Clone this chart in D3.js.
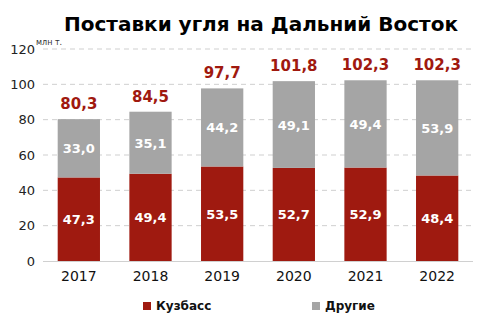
<!DOCTYPE html>
<html>
<head>
<meta charset="utf-8">
<script src="https://cdn.jsdelivr.net/npm/d3@7/dist/d3.min.js"></script>
<style>
  html, body { margin: 0; padding: 0; background: #fff; }
  svg { display: block; font-family: "DejaVu Sans", Verdana, sans-serif; }
</style>
</head>
<body>
<svg id="chart" width="490" height="330"></svg>
<script>
// Coal deliveries to the Far East, million tonnes
const years = ["2017", "2018", "2019", "2020", "2021", "2022"];
const kuzbass = [47.3, 49.4, 53.5, 52.7, 52.9, 48.4];
const others = [33.0, 35.1, 44.2, 49.1, 49.4, 53.9];
const totals = [80.3, 84.5, 97.7, 101.8, 102.3, 102.3];
const yTicks = [0, 20, 40, 60, 80, 100, 120];
const seriesNames = ["Кузбасс", "Другие"];

const colors = { kuzbass: "#9f1a10", others: "#a5a5a5", total: "#a0190f" };
const fmt = v => v.toFixed(1).replace(".", ",");

const svg = d3.select("#chart");
const margin = { left: 43, right: 17, top: 49, bottom: 68 };
const W = 490, H = 330;

const x = d3.scaleBand().domain(years)
  .range([margin.left, W - margin.right])
  .paddingInner(0.41).paddingOuter(0.205);
const y = d3.scaleLinear().domain([0, 120]).range([H - margin.bottom - 1, margin.top]);

// title
svg.append("text")
  .attr("x", 261).attr("y", 31)
  .attr("text-anchor", "middle")
  .attr("font-size", 20).attr("font-weight", "bold").attr("fill", "#000")
  .text("Поставки угля на Дальний Восток");

// gridlines
svg.append("g").selectAll("line").data(yTicks.filter(t => t > 0)).join("line")
  .attr("x1", margin.left).attr("x2", W - margin.right)
  .attr("y1", d => y(d)).attr("y2", d => y(d))
  .attr("stroke", "#cfcfcf").attr("stroke-width", 1)
  .attr("stroke-dasharray", "5,4");

// y-axis labels
const yAxis = d3.axisLeft(y).tickValues(yTicks).tickSize(0).tickPadding(8);
const gy = svg.append("g").attr("transform", `translate(${margin.left},0)`).call(yAxis);
gy.select(".domain").remove();
gy.selectAll("text").attr("font-size", 13).attr("fill", "#222")
  .attr("font-family", "DejaVu Sans, Verdana, sans-serif");

// unit label
svg.append("text").attr("x", 36).attr("y", 45)
  .attr("font-size", 8).attr("fill", "#333").text("млн т.");

// stacked bars
const stackData = years.map((yr, i) => ({ year: yr, kuzbass: kuzbass[i], others: others[i] }));
const stack = d3.stack().keys(["kuzbass", "others"])(stackData);

const layers = svg.append("g").selectAll("g").data(stack).join("g")
  .attr("fill", d => colors[d.key]);
layers.selectAll("rect").data(d => d).join("rect")
  .attr("x", d => x(d.data.year))
  .attr("width", x.bandwidth())
  .attr("y", d => y(d[1]))
  .attr("height", d => y(d[0]) - y(d[1]));

// segment value labels
layers.selectAll("text").data(d => d.map(p => ({ p, key: d.key }))).join("text")
  .attr("x", d => x(d.p.data.year) + x.bandwidth() / 2)
  .attr("y", d => (y(d.p[0]) + y(d.p[1])) / 2 + 5)
  .attr("text-anchor", "middle")
  .attr("font-size", 13).attr("font-weight", "bold").attr("fill", "#fff")
  .text(d => fmt(d.p.data[d.key]));

// baseline
svg.append("line")
  .attr("x1", margin.left).attr("x2", W - margin.right)
  .attr("y1", y(0) + 0.5).attr("y2", y(0) + 0.5)
  .attr("stroke", "#d0d0d0").attr("stroke-width", 1);

// totals above bars
svg.append("g").selectAll("text").data(years).join("text")
  .attr("x", d => x(d) + x.bandwidth() / 2)
  .attr("y", (d, i) => y(totals[i]) - 10)
  .attr("text-anchor", "middle")
  .attr("font-size", 15).attr("font-weight", "bold").attr("fill", colors.total)
  .text((d, i) => fmt(totals[i]));

// x-axis labels
const xAxis = d3.axisBottom(x).tickSize(0).tickPadding(10);
const gx = svg.append("g").attr("transform", `translate(0,${y(0)})`).call(xAxis);
gx.select(".domain").remove();
gx.selectAll("text").attr("font-size", 14).attr("fill", "#111")
  .attr("font-family", "DejaVu Sans, Verdana, sans-serif");

// legend
const legendItems = [
  { name: seriesNames[0], color: colors.kuzbass, x: 143 },
  { name: seriesNames[1], color: colors.others, x: 312 }
];
const lg = svg.append("g").selectAll("g").data(legendItems).join("g")
  .attr("transform", d => `translate(${d.x},300)`);
lg.append("rect").attr("width", 8).attr("height", 8).attr("y", 2)
  .attr("fill", d => d.color);
lg.append("text").attr("x", 13).attr("y", 10)
  .attr("font-size", 12).attr("font-weight", "bold").attr("fill", "#111")
  .text(d => d.name);
</script>
</body>
</html>
